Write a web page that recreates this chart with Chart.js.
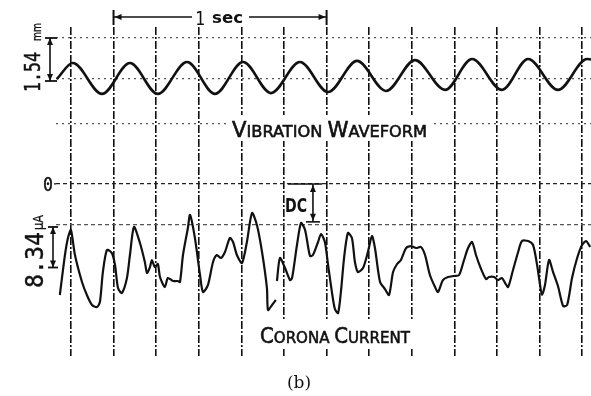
<!DOCTYPE html>
<html>
<head>
<meta charset="utf-8">
<script src="https://cdn.jsdelivr.net/npm/chart.js@4"></script>
<style>
  html, body { margin: 0; padding: 0; background: #fff; }
  #wrap { width: 591px; height: 396px; }
</style>
</head>
<body>
<div id="wrap"><canvas id="grafico"></canvas></div>
<script>
// vibration waveform (time in s, displacement in mm) - peaks and troughs
const vibT = [-0.066, 0.009, 0.146, 0.277, 0.408, 0.545, 0.676, 0.808, 0.939, 1.075, 1.207,
  1.343, 1.479, 1.615, 1.756, 1.883, 2.023, 2.146, 2.286, 2.423, 2.441];
const vibMm = [0, 0.60, -0.56, 0.60, -0.56, 0.64, -0.56, 0.64, -0.53, 0.64, -0.49,
  0.68, -0.45, 0.71, -0.41, 0.75, -0.41, 0.75, -0.41, 0.75, 0.73];

// corona current (time in s, current in uA), null = break in the trace
const curT = [-0.052, -0.028, -0.014, 0, 0.019, 0.052, 0.075, 0.099, 0.122, 0.136,
  0.150, 0.169, 0.192, 0.207, 0.221, 0.239, 0.263, 0.277, 0.296, 0.324,
  0.347, 0.357, 0.371, 0.380, 0.394, 0.408, 0.418, 0.441, 0.455, 0.479,
  0.502, 0.512, 0.526, 0.549, 0.559, 0.582, 0.606, 0.620, 0.643, 0.667,
  0.685, 0.704, 0.723, 0.746, 0.761, 0.779, 0.803, 0.826, 0.850, 0.873,
  0.897, 0.920, 0.925, 0.944, 0.962, 0.965,
  0.967, 0.981, 1.005, 1.028, 1.038, 1.061, 1.080, 1.099, 1.122, 1.136,
  1.160, 1.174, 1.192, 1.207, 1.225, 1.239, 1.254, 1.268, 1.282, 1.300,
  1.319, 1.333, 1.347, 1.371, 1.394, 1.413, 1.427, 1.451, 1.474, 1.493,
  1.512, 1.531, 1.549, 1.573, 1.596, 1.620, 1.643, 1.662, 1.685, 1.709,
  1.723, 1.746, 1.770, 1.798, 1.822, 1.845, 1.864, 1.883, 1.901, 1.925,
  1.948, 1.962, 1.986, 2.005, 2.023, 2.038, 2.052, 2.075, 2.099, 2.117,
  2.146, 2.169, 2.188, 2.202, 2.211, 2.225, 2.244, 2.263, 2.286, 2.310,
  2.329, 2.352, 2.376, 2.399, 2.418, 2.437];
const curUA = [-22.85, -14.62, -11.12, -9.47, -14.62, -20.18, -22.85, -24.91, -25.33, -24.30,
  -18.12, -13.59, -14.21, -16.68, -21.41, -22.44, -19.35, -14.62, -8.85, -12.15,
  -16.06, -18.33, -17.09, -15.65, -17.09, -16.47, -19.15, -21.21, -19.35, -19.97,
  -19.97, -20.18, -14.62, -9.06, -6.38, -11.12, -18.74, -22.24, -20.80, -16.06,
  -14.62, -15.24, -14.00, -11.12, -11.94, -14.62, -16.27, -11.94, -5.97, -8.44,
  -14.00, -21.41, -25.94, -24.91, -23.88, null,
  -19.97, -15.24, -17.30, -19.77, -19.35, -12.56, -8.03, -9.47, -14.82, -14.62,
  -11.94, -10.30, -11.94, -16.68, -22.24, -25.74, -26.56, -21.83, -15.24, -10.09,
  -11.12, -16.06, -18.12, -17.30, -14.00, -10.71, -13.18, -20.18, -21.62, -22.85,
  -18.12, -16.47, -15.65, -13.18, -12.77, -13.18, -12.97, -14.62, -18.74, -21.21,
  -22.24, -19.77, -19.15, -18.94, -18.74, -15.65, -13.18, -11.94, -14.62, -17.50,
  -19.56, -19.15, -19.15, -19.77, -19.35, -20.38, -21.21, -17.71, -14.00, -11.74,
  -11.74, -12.56, -16.68, -20.80, -22.85, -20.80, -15.65, -18.12, -21.00, -25.12,
  -24.91, -19.35, -15.24, -12.56, -11.74, -12.97];

// grid / scale marks
const tiempoTicks = [0, 0.2, 0.4, 0.6, 0.8, 1.0, 1.2, 1.4, 1.6, 1.8, 2.0, 2.2, 2.4];
const vibTicks = [1.54, 0, -1.69];
const curTicks = [0, -8.34];
const escalaMm = 1.54;
const escalaUA = 8.34;
const dcUA = 7.8;
const unSeg = [0.2, 1.2];

const FONT = '"DejaVu Sans", sans-serif';
const MONO = '"DejaVu Sans Mono", monospace';

function flecha(ctx, x, y, dir) {
  const s = 7, h = 3;
  ctx.beginPath();
  if (dir === 'up') { ctx.moveTo(x, y); ctx.lineTo(x - h, y + s); ctx.lineTo(x + h, y + s); }
  if (dir === 'down') { ctx.moveTo(x, y); ctx.lineTo(x - h, y - s); ctx.lineTo(x + h, y - s); }
  if (dir === 'left') { ctx.moveTo(x, y); ctx.lineTo(x + s, y - h); ctx.lineTo(x + s, y + h); }
  if (dir === 'right') { ctx.moveTo(x, y); ctx.lineTo(x - s, y - h); ctx.lineTo(x - s, y + h); }
  ctx.closePath();
  ctx.fill();
}

function linea(ctx, x1, y1, x2, y2, w) {
  ctx.lineWidth = w;
  ctx.beginPath();
  ctx.moveTo(x1, y1);
  ctx.lineTo(x2, y2);
  ctx.stroke();
}

function cota(ctx, x, y1, y2, c1, c2) {
  linea(ctx, x, y1, x, y2, 1.6);
  linea(ctx, c1, y1, c2, y1, 1.8);
  linea(ctx, c1, y2, c2, y2, 1.8);
  flecha(ctx, x, y1, 'up');
  flecha(ctx, x, y2, 'down');
}

// text squeezed / stretched to a width, optionally rotated
function texto(ctx, str, x, y, w, font, ang, grosor) {
  ctx.save();
  ctx.translate(x, y);
  if (ang) ctx.rotate(ang);
  ctx.font = font;
  const m = ctx.measureText(str).width;
  ctx.scale(w / m, 1);
  ctx.fillText(str, 0, 0);
  if (grosor) { ctx.lineWidth = grosor; ctx.strokeText(str, 0, 0); }
  ctx.restore();
}

function versalitas(ctx, partes, x, y, w) {
  let total = 0;
  partes.forEach(p => { ctx.font = p[1] + 'px ' + FONT; total += ctx.measureText(p[0]).width; });
  ctx.save();
  ctx.translate(x, y);
  ctx.scale(w / total, 1);
  ctx.lineWidth = 0.6;
  let cx = 0;
  partes.forEach(p => {
    ctx.font = p[1] + 'px ' + FONT;
    ctx.fillText(p[0], cx, 0);
    ctx.strokeText(p[0], cx, 0);
    cx += ctx.measureText(p[0]).width;
  });
  ctx.restore();
}

const notas = {
  id: 'notas',
  beforeDatasetsDraw(chart) {
    const ctx = chart.ctx;
    ctx.save();
    ctx.fillStyle = '#fff';
    ctx.fillRect(228, 115, 204, 26);
    ctx.fillRect(256, 321, 158, 28);
    ctx.restore();
  },
  afterDraw(chart) {
    const {ctx, scales: {x, yV, yC}} = chart;
    ctx.save();
    ctx.fillStyle = '#111';
    ctx.strokeStyle = '#111';
    ctx.textAlign = 'left';
    ctx.textBaseline = 'alphabetic';

    // 1 sec
    const xa = x.getPixelForValue(unSeg[0]);
    const xb = x.getPixelForValue(unSeg[1]);
    linea(ctx, xa, 10, xa, 25, 2);
    linea(ctx, xb, 10, xb, 25, 2);
    linea(ctx, xa, 17, 192, 17, 1.5);
    linea(ctx, 249, 17, xb, 17, 1.5);
    flecha(ctx, xa + 1, 17, 'left');
    flecha(ctx, xb - 1, 17, 'right');
    texto(ctx, '1', 195, 25, 10, '20px ' + MONO);
    texto(ctx, 'sec', 212, 23, 31, 'bold 15px ' + FONT);

    // 1.54 mm
    cota(ctx, 50, yV.getPixelForValue(escalaMm), yV.getPixelForValue(0) + 2, 45, 57);
    texto(ctx, '1.54', 40, 92, 40, '21px ' + MONO, -Math.PI / 2, 0.5);
    texto(ctx, 'mm', 41, 41, 18, '13px ' + FONT, -Math.PI / 2, 0.3);

    // 0 line label
    const y0 = yC.getPixelForValue(0);
    texto(ctx, '0', 43, y0 + 7, 10, '19px ' + MONO, 0, 0.4);
    linea(ctx, 54, y0, 56, y0, 1.2);

    // 8.34 uA
    cota(ctx, 53, yC.getPixelForValue(-8.85), yC.getPixelForValue(-8.85 - escalaUA), 48, 58);
    texto(ctx, '8.34', 43, 288, 56, '24px ' + MONO, -Math.PI / 2, 0.4);
    texto(ctx, 'µA', 43, 230, 15, '14px ' + FONT, -Math.PI / 2, 0.3);

    // DC
    const xd = x.getPixelForValue(1.136);
    const yd = yC.getPixelForValue(-dcUA);
    linea(ctx, 288, y0, 322, y0, 1.6);
    linea(ctx, xd, y0, xd, yd, 1.6);
    linea(ctx, xd - 7, yd, xd + 7, yd, 1.6);
    flecha(ctx, xd, y0 + 1, 'up');
    flecha(ctx, xd, yd - 1, 'down');
    texto(ctx, 'DC', 285, 212, 22, 'bold 20px ' + FONT);

    // labels
    versalitas(ctx, [['V', 21], ['IBRATION', 16], [' ', 16], ['W', 21], ['AVEFORM', 16]], 232, 137, 195);
    versalitas(ctx, [['C', 21], ['ORONA', 16], [' ', 16], ['C', 21], ['URRENT', 16]], 260, 343, 150);

    ctx.font = '17px "DejaVu Serif", serif';
    ctx.textAlign = 'center';
    ctx.fillText('(b)', 299, 388);
    ctx.restore();
  }
};

const ctx = document.getElementById('grafico').getContext('2d');
new Chart(ctx, {
  type: 'line',
  data: {
    datasets: [{
      label: 'Vibration waveform',
      data: vibT.map((t, i) => ({ x: t, y: vibMm[i] })),
      yAxisID: 'yV',
      borderColor: '#111',
      borderWidth: 2.6,
      pointRadius: 0,
      cubicInterpolationMode: 'monotone'
    }, {
      label: 'Corona current',
      data: curT.map((t, i) => ({ x: t, y: curUA[i] })),
      yAxisID: 'yC',
      borderColor: '#111',
      borderWidth: 2.2,
      pointRadius: 0,
      tension: 0.25,
      spanGaps: false
    }]
  },
  options: {
    responsive: true,
    maintainAspectRatio: false,
    animation: false,
    layout: { autoPadding: false, padding: { left: 56, right: 0, top: 27, bottom: 40 } },
    plugins: { legend: { display: false }, tooltip: { enabled: false } },
    scales: {
      x: {
        type: 'linear',
        min: -0.070,
        max: 2.441,
        afterBuildTicks: s => { s.ticks = tiempoTicks.map(v => ({ value: v })); },
        ticks: { display: false },
        grid: { drawTicks: false, color: '#111', lineWidth: 1.6 },
        border: { display: false, dash: [8, 2, 2, 2] }
      },
      yV: {
        position: 'left',
        min: -10.404,
        max: 1.953,
        afterBuildTicks: s => { s.ticks = vibTicks.map(v => ({ value: v })); },
        ticks: { display: false },
        grid: { drawTicks: false, color: '#555', lineWidth: 1.2 },
        border: { display: false, dash: [2, 4] }
      },
      yC: {
        position: 'left',
        min: -35.4,
        max: 32.3,
        afterBuildTicks: s => { s.ticks = curTicks.map(v => ({ value: v })); },
        ticks: { display: false },
        grid: { drawTicks: false, color: c => c.tick && c.tick.value === 0 ? '#222' : '#555', lineWidth: 1.2 },
        border: { display: false, dash: [4, 3] }
      }
    }
  },
  plugins: [notas]
});
</script>
</body>
</html>
